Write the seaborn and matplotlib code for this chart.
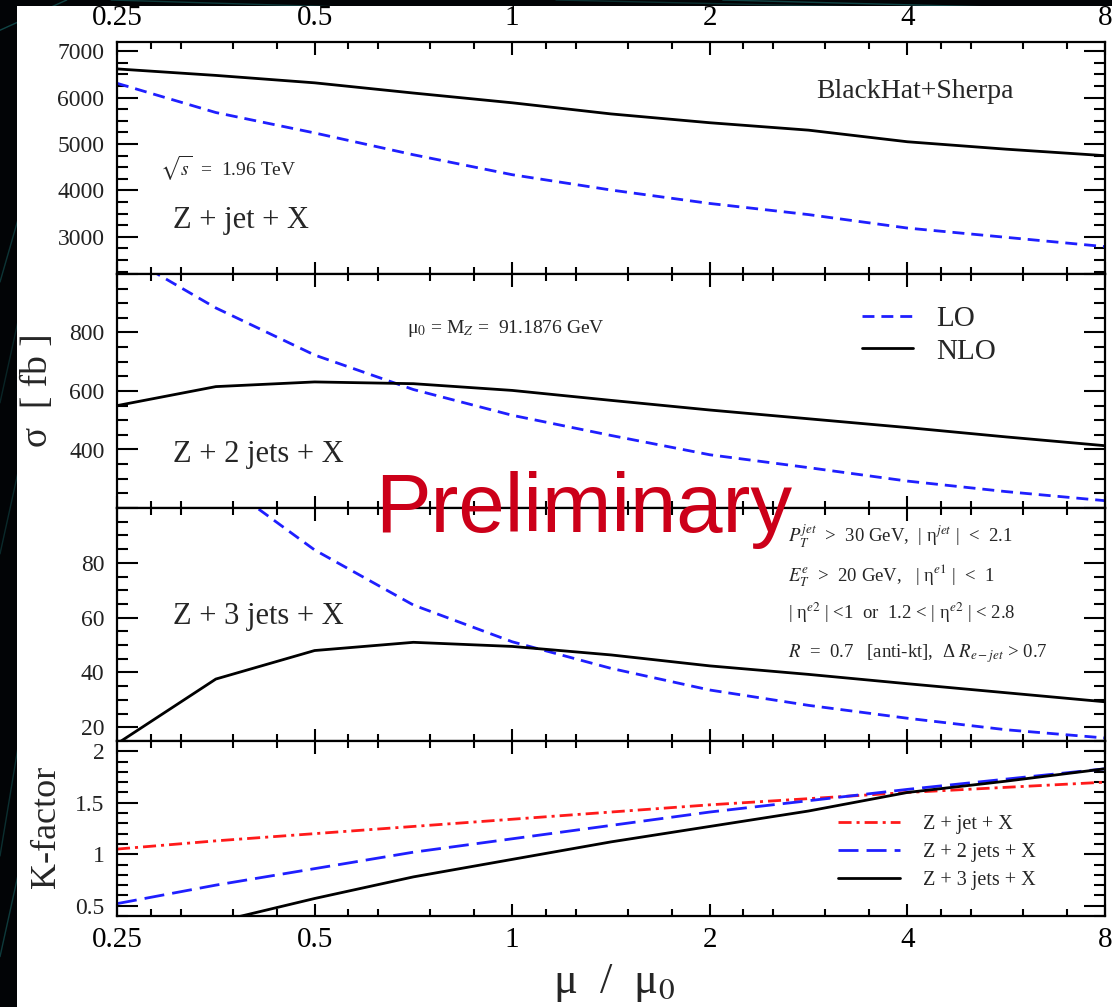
import numpy as np
import pandas as pd
import matplotlib
matplotlib.use("Agg")
import matplotlib.pyplot as plt
from matplotlib.ticker import FixedLocator, FixedFormatter, MultipleLocator, NullFormatter
from matplotlib.lines import Line2D
from matplotlib.patches import Rectangle
import seaborn as sns

# renormalisation / factorisation scale in units of mu0
mu = [0.25, 0.3536, 0.5, 0.7071, 1.0, 1.4142, 2.0, 2.8284, 4.0, 5.6569, 8.0]

# Z + jet + X cross section [fb]
z1_lo = [6310, 5680, 5240, 4770, 4340, 4010, 3720, 3480, 3190, 2990, 2790]
z1_nlo = [6620, 6480, 6320, 6100, 5890, 5650, 5460, 5300, 5050, 4890, 4750]
# Z + 2 jets + X
z2_lo = [1080, 884, 723, 605, 517, 448, 382, 338, 292, 256, 225]
z2_nlo = [550, 615, 631, 625, 602, 568, 535, 505, 475, 443, 413]
# Z + 3 jets + X
z3_lo = [145, 111, 84.7, 64.6, 51.2, 41.5, 33.6, 28.0, 23.3, 19.1, 16.1]
z3_nlo = [14.0, 37.6, 48.0, 51.0, 49.5, 46.4, 42.4, 39.3, 35.9, 32.6, 29.3]
# K-factors NLO / LO
k_z1 = [1.05, 1.13, 1.20, 1.27, 1.34, 1.41, 1.48, 1.54, 1.60, 1.65, 1.70]
k_z2 = [0.52, 0.70, 0.86, 1.02, 1.15, 1.28, 1.41, 1.52, 1.63, 1.73, 1.83]
k_z3 = [0.10, 0.34, 0.57, 0.78, 0.95, 1.12, 1.27, 1.42, 1.60, 1.71, 1.83]

x_major = [0.25, 0.5, 1, 2, 4, 8]
x_major_labels = ["0.25", "0.5", "1", "2", "4", "8"]
x_minor = [b * f for b in x_major[:-1] for f in (1.125, 1.25, 1.5, 1.75)]

panel_labels = ["Z + jet + X", "Z + 2 jets + X", "Z + 3 jets + X"]
k_labels = ["Z + jet + X", "Z + 2 jets + X", "Z + 3 jets + X"]

sns.set_theme(style="ticks")
plt.rcParams.update({
    "font.family": ["Liberation Serif", "DejaVu Serif"],
    "mathtext.fontset": "stix",
    "axes.linewidth": 1.5,
    "axes.edgecolor": "black",
    "xtick.direction": "in",
    "ytick.direction": "in",
    "xtick.color": "black",
    "ytick.color": "black",
})

W, H = 1112, 1007
fig = plt.figure(figsize=(W / 100, H / 100), dpi=100, facecolor="#020406")


def fx(px):
    return px / W


def fy(py):
    return 1 - py / H


# dark slide backdrop with a few teal streaks, then the white page
for y0, y1, a in [(0.05, 0.35, 0.5), (0.15, 0.55, 0.4), (0.45, 0.75, 0.35),
                  (0.6, 0.9, 0.3), (0.72, 0.95, 0.45), (0.97, 1.0, 0.6)]:
    fig.add_artist(Line2D([0, 0.06], [y0, y1], transform=fig.transFigure,
                          color="#1a7070", lw=1.0, alpha=a, zorder=-20))
for x0, x1, a in [(0.1, 0.4, 0.5), (0.5, 0.9, 0.4), (0.65, 1.0, 0.6)]:
    fig.add_artist(Line2D([x0, x1], [1.0, 0.99], transform=fig.transFigure,
                          color="#1a7070", lw=1.0, alpha=a, zorder=-20))
fig.add_artist(Rectangle((fx(17), 0), 1 - fx(17), fy(6), transform=fig.transFigure,
                         facecolor="white", edgecolor="none", zorder=-10))

left, right = 117, 1105
bounds = [(42, 274), (274, 508), (508, 741), (741, 916)]
axes = []
for i, (t, b) in enumerate(bounds):
    ax = fig.add_axes([fx(left), fy(b), fx(right) - fx(left), (b - t) / H],
                      sharex=axes[0] if axes else None)
    ax.set_facecolor("white")
    axes.append(ax)

LW = 2.0
LO_COLOR = "#1f1fff"
lo_style = (0, (4.3, 2.5))

series = [(z1_lo, z1_nlo), (z2_lo, z2_nlo), (z3_lo, z3_nlo)]
for i, (lo, nlo) in enumerate(series):
    ax = axes[i]
    df = pd.DataFrame({"mu": mu, "LO": lo, "NLO": nlo})
    sns.lineplot(data=df, x="mu", y="LO", ax=ax, color=LO_COLOR, lw=LW,
                 linestyle=lo_style, estimator=None, sort=False,
                 label="LO" if i == 1 else None, legend=False)
    sns.lineplot(data=df, x="mu", y="NLO", ax=ax, color="black", lw=LW,
                 estimator=None, sort=False,
                 label="NLO" if i == 1 else None, legend=False)

axk = axes[3]
dk = pd.DataFrame({"mu": mu, "k1": k_z1, "k2": k_z2, "k3": k_z3})
sns.lineplot(data=dk, x="mu", y="k1", ax=axk, color="#ff1a1a", lw=LW,
             linestyle=(0, (4.7, 1.8, 1.1, 1.8)), estimator=None, sort=False,
             label=k_labels[0], legend=False)
sns.lineplot(data=dk, x="mu", y="k2", ax=axk, color=LO_COLOR, lw=LW,
             linestyle=(0, (7.2, 2.9)), estimator=None, sort=False,
             label=k_labels[1], legend=False)
sns.lineplot(data=dk, x="mu", y="k3", ax=axk, color="black", lw=LW,
             estimator=None, sort=False, label=k_labels[2], legend=False)

# y-axis settings per panel
ycfg = [
    ((2200, 7200), [3000, 4000, 5000, 6000, 7000], ["3000", "4000", "5000", "6000", "7000"], 250),
    ((200, 1000), [200, 400, 600, 800, 1000], ["", "400", "600", "800", ""], 50),
    ((15, 100), [20, 40, 60, 80, 100], ["20", "40", "60", "80", ""], 5),
    ((0.4, 2.1), [0.5, 1.0, 1.5, 2.0], ["0.5", "1", "1.5", "2"], 0.1),
]
for ax, (lim, ticks, labels, minor) in zip(axes, ycfg):
    ax.set_xscale("log", base=2)
    ax.set_xlim(0.25, 8)
    ax.set_ylim(*lim)
    ax.yaxis.set_major_locator(FixedLocator(ticks))
    ax.yaxis.set_major_formatter(FixedFormatter(labels))
    ax.yaxis.set_minor_locator(MultipleLocator(minor))
    ax.set_xlabel("")
    ax.set_ylabel("")
    for s in ax.spines.values():
        s.set_visible(True)
        s.set_linewidth(1.6)
    ax.tick_params(axis="both", which="both", top=True, right=True,
                   bottom=True, left=True, direction="in", width=1.5)
    ax.tick_params(axis="y", which="major", length=15, pad=9,
                   labelsize=17, labelcolor="#222222")
    ax.tick_params(axis="y", which="minor", length=8)
    ax.tick_params(axis="x", which="major", length=9, labelsize=21, pad=8)
    ax.tick_params(axis="x", which="minor", length=5)
    ax.tick_params(axis="x", labelbottom=False, labeltop=False)

axes[0].xaxis.set_major_locator(FixedLocator(x_major))
axes[0].xaxis.set_major_formatter(FixedFormatter(x_major_labels))
axes[0].xaxis.set_minor_locator(FixedLocator(x_minor))
axes[0].xaxis.set_minor_formatter(NullFormatter())
axes[0].tick_params(axis="x", labeltop=True)
axes[3].tick_params(axis="x", labelbottom=True)

# legends
axes[1].legend(loc="upper left", bbox_to_anchor=(fx(862), fy(306)),
               bbox_transform=fig.transFigure, frameon=False, fontsize=21,
               handlelength=1.75, handletextpad=0.8, labelspacing=0.2,
               borderpad=0, borderaxespad=0)
axk.legend(loc="upper left", bbox_to_anchor=(fx(838), fy(815)),
           bbox_transform=fig.transFigure, frameon=False, fontsize=14.5,
           handlelength=3.1, handletextpad=1.1, labelspacing=0.45,
           borderpad=0, borderaxespad=0)

# annotations
fig.text(fx(915), fy(92), "BlackHat+Sherpa", fontsize=20, ha="center", va="center")
fig.text(fx(160), fy(176), r"$\sqrt{s}$  =  1.96 TeV", fontsize=14, ha="left", va="baseline")
fig.text(fx(173), fy(228), panel_labels[0], fontsize=22, ha="left", va="baseline")
fig.text(fx(173), fy(462), panel_labels[1], fontsize=22, ha="left", va="baseline")
fig.text(fx(173), fy(624), panel_labels[2], fontsize=22, ha="left", va="baseline")
fig.text(fx(407), fy(333), r"μ$_0$ = M$_Z$ =  91.1876 GeV", fontsize=14,
         ha="left", va="baseline")

cuts = [
    r"$P_T^{jet}$  >  30 GeV,  | η$^{jet}$ |  <  2.1",
    r"$E_T^{e}$  >  20 GeV,   | η$^{e1}$ |  <  1",
    r"| η$^{e2}$ | <1  or  1.2 < | η$^{e2}$ | < 2.8",
    r"$R$  =  0.7   [anti-kt],  Δ $R_{e-jet}$ > 0.7",
]
for txt, yb in zip(cuts, [543, 582, 619, 657]):
    fig.text(fx(788), fy(yb), txt, fontsize=13.5, ha="left", va="baseline")

fig.text(fx(38), fy(390), "σ  [ fb ]", fontsize=27, rotation=90,
         ha="center", va="center")
fig.text(fx(47), fy(827), "K-factor", fontsize=26, rotation=90,
         ha="center", va="center")
fig.text(fx(614), fy(983), r"μ  /  μ$_0$", fontsize=32, ha="center", va="center")

fig.text(fx(584), fy(532), "Preliminary", fontsize=60, color="#cc0019",
         family=["Liberation Sans", "DejaVu Sans"], ha="center", va="baseline")

fig.savefig("out.png", dpi=100, facecolor=fig.get_facecolor())
